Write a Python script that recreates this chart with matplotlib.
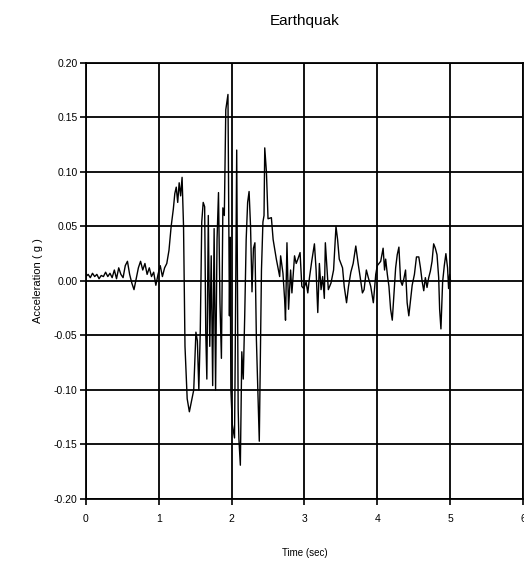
import numpy as np
import matplotlib
matplotlib.use("Agg")
import matplotlib.pyplot as plt

# ___ digitised record (turning points)
time_early = [0.00, 0.03, 0.06, 0.09, 0.12, 0.15, 0.18, 0.21, 0.24, 0.27,
              0.30, 0.33, 0.36, 0.39, 0.42, 0.45, 0.48, 0.51, 0.54, 0.57,
              0.60, 0.63, 0.66, 0.69, 0.72, 0.75, 0.78, 0.81, 0.84, 0.87,
              0.90, 0.93, 0.96, 0.99, 1.02, 1.05, 1.08, 1.11, 1.14, 1.17,
              1.20, 1.22, 1.24, 1.26, 1.28, 1.30, 1.32, 1.34]
acc_early = [0.004, 0.006, 0.003, 0.007, 0.004, 0.006, 0.002, 0.005, 0.004, 0.008,
             0.004, 0.007, 0.003, 0.010, 0.002, 0.012, 0.006, 0.003, 0.014, 0.018,
             0.006, -0.002, -0.008, 0.002, 0.012, 0.018, 0.010, 0.016, 0.006, 0.012,
             0.004, 0.008, -0.004, 0.006, 0.014, 0.004, 0.012, 0.016, 0.028, 0.050,
             0.066, 0.080, 0.086, 0.072, 0.090, 0.078, 0.095, 0.050]

time_strong = [1.36, 1.39, 1.42, 1.45, 1.48, 1.51, 1.53, 1.55, 1.57, 1.59,
               1.61, 1.63, 1.645, 1.66, 1.68, 1.70, 1.72, 1.74, 1.76, 1.78,
               1.80, 1.82, 1.84, 1.86, 1.88, 1.90, 1.92, 1.95, 1.97, 1.98,
               1.99, 2.01, 2.04, 2.05, 2.07, 2.09, 2.10, 2.12, 2.14, 2.16,
               2.18, 2.20, 2.22, 2.24, 2.26, 2.28, 2.30, 2.32, 2.34, 2.36,
               2.38, 2.41, 2.43, 2.445]
acc_strong = [-0.060, -0.108, -0.120, -0.110, -0.100, -0.047, -0.055, -0.100, -0.045, 0.054,
              0.072, 0.068, -0.047, -0.090, 0.060, -0.060, 0.023, -0.096, 0.048, -0.100,
              0.038, 0.081, -0.020, -0.071, 0.067, 0.060, 0.157, 0.171, -0.032, 0.040,
              -0.100, -0.132, -0.144, -0.065, 0.120, -0.117, -0.145, -0.169, -0.065, -0.090,
              -0.032, 0.038, 0.072, 0.082, 0.050, -0.010, 0.030, 0.035, -0.053, -0.100,
              -0.147, 0.010, 0.054, 0.060]

time_late = [2.455, 2.478, 2.50, 2.546, 2.57, 2.614, 2.66, 2.673, 2.705, 2.728,
             2.74, 2.76, 2.782, 2.81, 2.828, 2.864, 2.887, 2.91, 2.94, 2.964,
             2.99, 3.023, 3.046, 3.069, 3.10, 3.137, 3.16, 3.183, 3.205, 3.228,
             3.25, 3.273, 3.287, 3.31, 3.328, 3.364, 3.40, 3.433, 3.455, 3.478,
             3.50, 3.523, 3.546, 3.578, 3.605, 3.637, 3.669, 3.705, 3.737, 3.764,
             3.796, 3.819, 3.85, 3.873, 3.91, 3.946, 3.979, 4.00, 4.047, 4.08,
             4.10, 4.115, 4.138, 4.16, 4.183, 4.206, 4.229, 4.252, 4.274, 4.297,
             4.32, 4.343, 4.365, 4.388, 4.41, 4.433, 4.456, 4.479, 4.51, 4.538,
             4.57, 4.593, 4.615, 4.638, 4.66, 4.683, 4.706, 4.729, 4.752, 4.774,
             4.797, 4.82, 4.843, 4.856, 4.874, 4.897, 4.92, 4.942, 4.965, 4.979,
             4.993, 5.006]
acc_late = [0.122, 0.100, 0.057, 0.058, 0.038, 0.020, 0.004, 0.023, 0.007, -0.017,
            -0.036, 0.035, -0.026, 0.010, -0.011, 0.023, 0.016, 0.020, 0.026, -0.005,
            -0.007, -0.001, -0.011, 0.003, 0.018, 0.034, 0.010, -0.029, 0.016, -0.008,
            0.004, -0.016, 0.035, 0.010, -0.008, -0.002, 0.010, 0.050, 0.038, 0.020,
            0.016, 0.012, -0.005, -0.020, -0.005, 0.008, 0.016, 0.032, 0.016, 0.004,
            -0.011, -0.008, 0.010, 0.004, -0.005, -0.020, 0.006, 0.014, 0.018, 0.030,
            0.010, 0.020, 0.006, -0.005, -0.026, -0.036, -0.012, 0.012, 0.024, 0.031,
            0.000, -0.004, 0.002, 0.010, -0.020, -0.032, -0.018, -0.004, 0.006, 0.022,
            0.022, 0.012, 0.000, -0.009, 0.003, -0.006, 0.003, 0.009, 0.018, 0.034,
            0.030, 0.024, 0.003, -0.026, -0.044, -0.001, 0.014, 0.025, 0.012, -0.007,
            0.006, 0.000]

x_ticks = [0, 1, 2, 3, 4, 5, 6]
y_ticks = [-0.20, -0.15, -0.10, -0.05, 0.00, 0.05, 0.10, 0.15, 0.20]

t = np.array(time_early + time_strong + time_late)
acc = np.array(acc_early + acc_strong + acc_late)

plt.rcParams["font.family"] = ["Liberation Sans", "DejaVu Sans"]

fig = plt.figure(figsize=(5.24, 5.65), dpi=100)
ax = fig.add_axes([0.164, 0.1168, 0.834, 0.772])

ax.plot(t, acc, color="black", linewidth=1.0)

ax.set_xlim(0, 6)
ax.set_ylim(-0.20, 0.20)
ax.set_xticks(x_ticks)
ax.set_xticklabels([str(v) for v in x_ticks])
ax.set_yticks(y_ticks)
ax.set_yticklabels(["{:.2f}".format(v) for v in y_ticks])
ax.grid(True, color="black", linewidth=1.3)
ax.set_axisbelow(False)
for s in ax.spines.values():
    s.set_linewidth(1.3)
ax.tick_params(direction="out", length=4, width=1.2, labelsize=7.5)
ax.tick_params(axis="x", pad=7)
ax.tick_params(axis="y", pad=2)

ax.set_xlabel("Time (sec)", fontsize=7, labelpad=17)
ax.set_ylabel("Acceleration ( g )", fontsize=8, labelpad=8)
ax.set_title("Earthquak", fontsize=11, pad=27)

plt.savefig("out.png", dpi=100)
